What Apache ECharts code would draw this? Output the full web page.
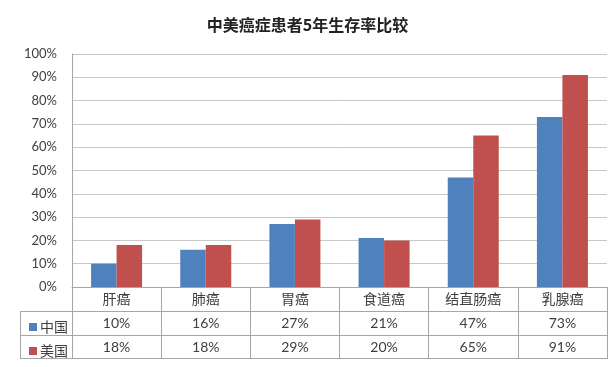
<!DOCTYPE html>
<html><head><meta charset="utf-8">
<script src="https://cdn.jsdelivr.net/npm/echarts@6/dist/echarts.min.js"></script>
<style>html,body{margin:0;padding:0;background:#fff}#c{width:615px;height:367px}</style>
</head><body><div id="c"></div>
<script>
const categories = ['肝癌','肺癌','胃癌','食道癌','结直肠癌','乳腺癌'];
const chinaValues = [10,16,27,21,47,73];
const usaValues = [18,18,29,20,65,91];
const seriesNames = ['中国','美国'];
const yTicks = [0,10,20,30,40,50,60,70,80,90,100];

const FONT = "Lato, 'Noto Sans CJK SC', sans-serif";
const TXT = '#404040';
const LINE = '#a6a6a6';
const ROW = 24;

function tableAxis(idx, offset, labelFn) {
  return {
    type: 'category', data: categories, position: 'bottom', offset: offset,
    boundaryGap: true,
    axisLine: {show: true, lineStyle: {color: LINE, width: 1}},
    axisTick: {show: labelFn !== null, length: ROW, lineStyle: {color: LINE}},
    axisLabel: labelFn ? {show: true, margin: 5, color: TXT, fontSize: 14, fontFamily: FONT,
      formatter: labelFn} : {show: false},
    splitLine: {show: false}
  };
}

const chart = echarts.init(document.getElementById('c'));
chart.setOption({
  animation: false,
  backgroundColor: '#fff',
  title: {text: '中美癌症患者5年生存率比较', left: 'center', top: 12,
    textStyle: {fontSize: 16, fontWeight: 'bold', color: '#222', fontFamily: "'Noto Sans CJK SC', sans-serif"}},
  legend: [
    {data: ['中国'], left: 24, top: 315, itemWidth: 8, itemHeight: 8, icon: 'rect', itemGap: 4,
      textStyle: {fontSize: 14, color: TXT, fontFamily: FONT, padding: [0,0,0,-2]}},
    {data: ['美国'], left: 24, top: 339, itemWidth: 8, itemHeight: 8, icon: 'rect', itemGap: 4,
      textStyle: {fontSize: 14, color: TXT, fontFamily: FONT, padding: [0,0,0,-2]}}
  ],
  grid: {left: 72, right: 8, top: 54, bottom: 80, containLabel: false, show: false},
  xAxis: [
    tableAxis(0, 0, (v) => v),
    tableAxis(1, ROW, (v, i) => chinaValues[i] + '%'),
    tableAxis(2, ROW * 2, (v, i) => usaValues[i] + '%'),
    tableAxis(3, ROW * 3 - 1, null)
  ],
  yAxis: {
    type: 'value', min: 0, max: 100, interval: 10,
    axisLine: {show: true, lineStyle: {color: LINE}},
    axisTick: {show: false},
    axisLabel: {margin: 15, color: TXT, fontSize: 13, fontFamily: FONT,
      formatter: (v) => yTicks.includes(v) ? v + '%' : ''},
    splitLine: {show: true, lineStyle: {color: '#c8c8c8', width: 1}}
  },
  graphic: [
    {type: 'line', shape: {x1: 20, y1: 311.5, x2: 72, y2: 311.5}, style: {stroke: LINE, lineWidth: 1}},
    {type: 'line', shape: {x1: 20, y1: 335.5, x2: 72, y2: 335.5}, style: {stroke: LINE, lineWidth: 1}},
    {type: 'line', shape: {x1: 20, y1: 358.5, x2: 72, y2: 358.5}, style: {stroke: LINE, lineWidth: 1}},
    {type: 'line', shape: {x1: 20.5, y1: 311, x2: 20.5, y2: 359}, style: {stroke: LINE, lineWidth: 1}}
  ],
  series: [
    {name: seriesNames[0], type: 'bar', data: chinaValues, itemStyle: {color: '#4F81BD'},
      barWidth: '28.6%', barGap: '0%'},
    {name: seriesNames[1], type: 'bar', data: usaValues, itemStyle: {color: '#C0504D'},
      barWidth: '28.6%', barGap: '0%'}
  ]
});
</script></body></html>
